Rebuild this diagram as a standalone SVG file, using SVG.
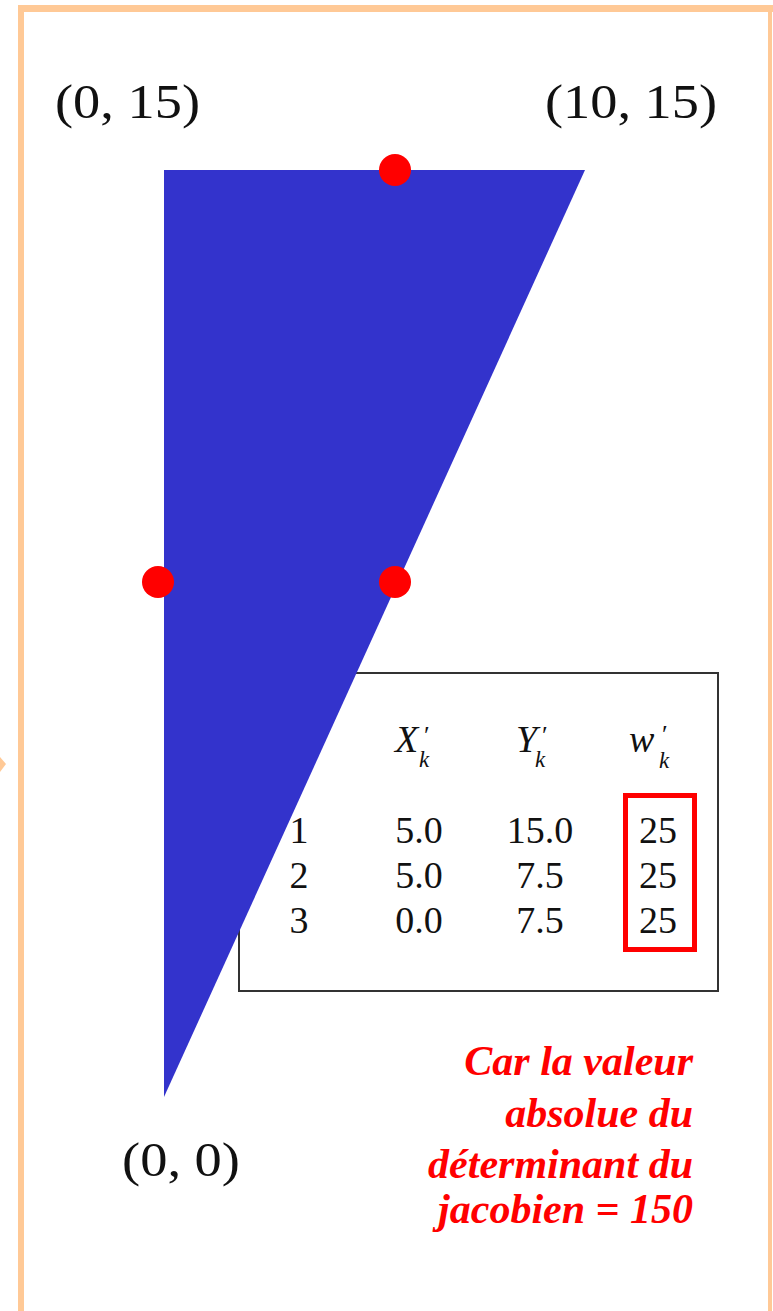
<svg xmlns="http://www.w3.org/2000/svg" width="773" height="1311" viewBox="0 0 773 1311">
<style>
.frame{fill:#FFC996;}
.math{font-family:"Liberation Serif","DejaVu Serif",serif;fill:#111;}
.lbl{font-size:48px;}
.tbl{font-size:38px;text-anchor:middle;}
.hd{font-size:38px;font-style:italic;}
.pr{font-size:26px;}
.sub{font-size:23px;font-style:italic;}
.note{font-family:"Liberation Serif",serif;font-weight:bold;font-style:italic;font-size:42px;fill:#FF0000;text-anchor:end;}
.dot{fill:#FF0000;}
</style>
<rect width="773" height="1311" fill="#FFFFFF"/>
<g id="frame">
<rect class="frame" x="18" y="5" width="755" height="7"/>
<rect class="frame" x="18" y="5" width="6" height="1306"/>
<rect class="frame" x="768" y="5" width="4" height="1306"/>
<polygon class="frame" points="0,757 6,764 0,772"/>
</g>
<g id="table">
<rect x="239" y="673" width="479" height="318" fill="#FFFFFF" stroke="#333333" stroke-width="2"/>
<text class="math hd" x="395" y="752">X</text>
<text class="math pr" x="424" y="744">′</text>
<text class="math sub" x="419" y="767">k</text>
<text class="math hd" x="516" y="752">Y</text>
<text class="math pr" x="542" y="744">′</text>
<text class="math sub" x="535" y="767">k</text>
<text class="math hd" x="629" y="752">w</text>
<text class="math pr" x="662" y="743">′</text>
<text class="math sub" x="659" y="768">k</text>
<text class="math tbl" x="299" y="843">1</text>
<text class="math tbl" x="419" y="843">5.0</text>
<text class="math tbl" x="540" y="843">15.0</text>
<text class="math tbl" x="658" y="843">25</text>
<text class="math tbl" x="299" y="888">2</text>
<text class="math tbl" x="419" y="888">5.0</text>
<text class="math tbl" x="540" y="888">7.5</text>
<text class="math tbl" x="658" y="888">25</text>
<text class="math tbl" x="299" y="933">3</text>
<text class="math tbl" x="419" y="933">0.0</text>
<text class="math tbl" x="540" y="933">7.5</text>
<text class="math tbl" x="658" y="933">25</text>
<rect x="625.5" y="795.5" width="69" height="154" fill="none" stroke="#FF0000" stroke-width="5"/>
</g>
<g id="element">
<polygon points="164,170 585,170 164,1097" fill="#3333CC"/>
</g>
<g id="points">
<circle class="dot" cx="395" cy="170" r="16"/>
<circle class="dot" cx="158" cy="582" r="16"/>
<circle class="dot" cx="395" cy="582" r="16"/>
</g>
<g id="labels">
<text class="math lbl" x="55" y="118" textLength="145" lengthAdjust="spacingAndGlyphs">(0, 15)</text>
<text class="math lbl" x="545" y="118" textLength="172" lengthAdjust="spacingAndGlyphs">(10, 15)</text>
<text class="math lbl" x="122" y="1176" textLength="118" lengthAdjust="spacingAndGlyphs">(0, 0)</text>
</g>
<g id="note">
<text class="note" x="693" y="1075">Car la valeur</text>
<text class="note" x="693" y="1127">absolue du</text>
<text class="note" x="693" y="1178">déterminant du</text>
<text class="note" x="693" y="1223">jacobien = 150</text>
</g>
</svg>
